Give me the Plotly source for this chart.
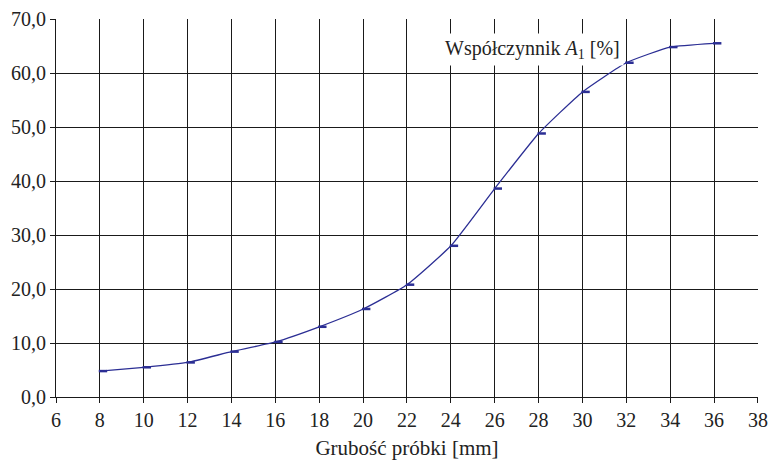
import plotly.graph_objects as go

thickness_mm = [8, 10, 12, 14, 16, 18, 20, 22, 24, 26, 28, 30, 32, 34, 36]
coef_a1 = [4.8, 5.5, 6.4, 8.4, 10.2, 13.0, 16.3, 20.8, 28.0, 38.6, 48.8, 56.5, 61.9, 64.8, 65.5]
x_ticks = list(range(6, 39, 2))
y_ticks = list(range(0, 71, 10))
y_tick_labels = [f"{v},0" for v in y_ticks]

font_family = "Liberation Serif, DejaVu Serif, serif"
grid_col = "#1a1a1a"

fig = go.Figure()
fig.add_trace(go.Scatter(
    x=thickness_mm, y=coef_a1, mode="lines",
    line=dict(color="#2b2e94", width=1.3, shape="spline", smoothing=0.45),
    hoverinfo="skip", showlegend=False,
))
fig.add_trace(go.Scatter(
    x=[v + 0.14 for v in thickness_mm], y=coef_a1, mode="markers",
    marker=dict(symbol="line-ew", size=6, line=dict(color="#2b2e94", width=2.5)),
    showlegend=False,
))

fig.add_annotation(
    x=27.7, y=64.4, xref="x", yref="y",
    text="Współczynnik <i>A</i><sub>1</sub> [%]",
    showarrow=False, bgcolor="white", borderpad=3,
    font=dict(family=font_family, size=20, color="#222"),
)

fig.update_layout(
    width=769, height=461,
    margin=dict(l=56, r=11, t=19, b=64),
    paper_bgcolor="white", plot_bgcolor="white",
    font=dict(family=font_family, size=20, color="#222"),
    xaxis=dict(
        range=[6, 38.0005], tickvals=x_ticks, ticktext=[str(v) for v in x_ticks],
        showgrid=True, gridcolor=grid_col, gridwidth=1,
        showline=True, linecolor=grid_col, linewidth=1.2,
        ticks="outside", ticklen=5, tickcolor=grid_col,
        zeroline=False, mirror=False, automargin=False,
        ticklabeloverflow="allow",
        title=dict(text="Grubość próbki [mm]", font=dict(size=21), standoff=10),
        tickfont=dict(size=20),
    ),
    yaxis=dict(
        range=[0, 70], tickvals=y_ticks, ticktext=y_tick_labels,
        showgrid=True, gridcolor=grid_col, gridwidth=1,
        showline=True, linecolor=grid_col, linewidth=1.2,
        ticks="outside", ticklen=5, tickcolor=grid_col,
        zeroline=False, automargin=False, ticklabeloverflow="allow",
        tickfont=dict(size=20),
    ),
)

fig.write_html(
    "out.html",
    config={"displayModeBar": False},
    post_script="document.body.style.margin='0';document.body.style.overflow='hidden';",
)
